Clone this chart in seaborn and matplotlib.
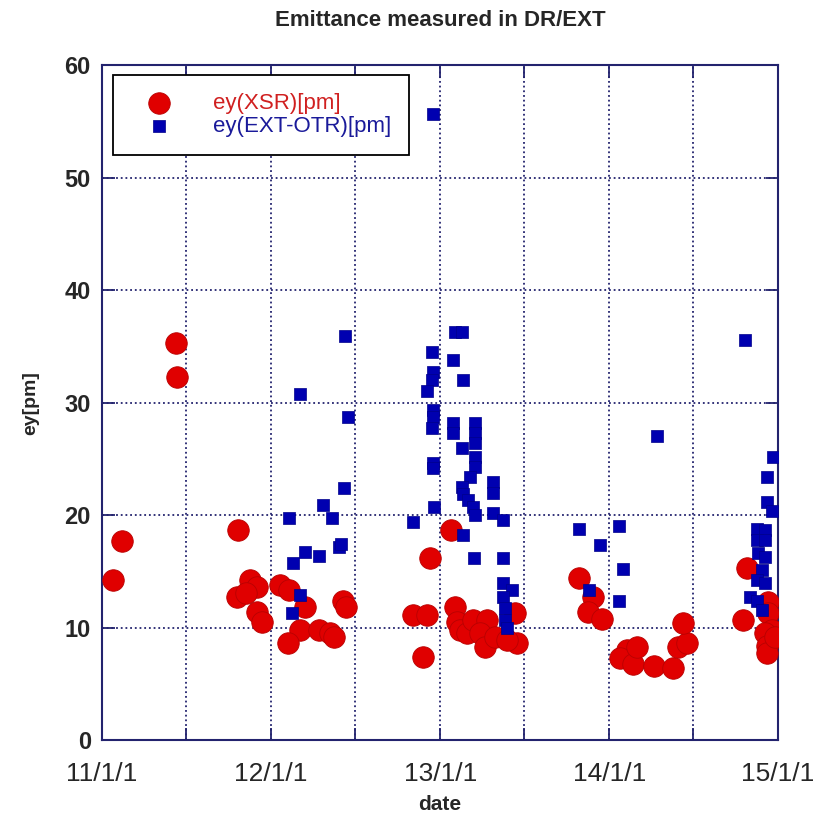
import pandas as pd
import seaborn as sns
import matplotlib.pyplot as plt
import matplotlib.dates as mdates
from matplotlib.ticker import MultipleLocator, FuncFormatter

# ey measured by XSR (red circles)
xsr_date = [
    "2011-01-25", "2011-02-13", "2011-06-09", "2011-06-13", "2011-10-23", "2011-10-19",
    "2011-11-16", "2011-12-01", "2011-11-09", "2011-12-03", "2011-12-12",
    "2012-01-20", "2012-02-10", "2012-03-14", "2012-03-03", "2012-02-06", "2012-04-15",
    "2012-05-07", "2012-05-17", "2012-06-04", "2012-06-12",
    "2013-01-24", "2012-12-10", "2012-11-03", "2012-12-04", "2012-11-25", "2013-02-01",
    "2013-02-06", "2013-02-12", "2013-02-27", "2013-03-12", "2013-04-12", "2013-03-27",
    "2013-04-07", "2013-04-29", "2013-06-11", "2013-06-15", "2013-05-25",
    "2013-10-28", "2013-11-27", "2013-11-17", "2013-12-17", "2014-02-08", "2014-01-24",
    "2014-02-21", "2014-03-02", "2014-04-09", "2014-05-18", "2014-05-29", "2014-06-18",
    "2014-06-09",
    "2014-10-17", "2014-10-26", "2014-12-10", "2014-12-10", "2014-12-19", "2014-12-04",
    "2014-12-08", "2014-12-08", "2014-12-26",
]
xsr_ey = [
    14.2, 17.7, 35.3, 32.3, 18.7, 12.7,
    14.2, 13.6, 13.1, 11.4, 10.5,
    13.8, 13.3, 11.8, 9.8, 8.6, 9.8,
    9.5, 9.2, 12.4, 11.8,
    18.7, 16.2, 11.1, 11.1, 7.4, 11.8,
    10.5, 9.8, 9.5, 10.7, 10.7, 9.5,
    8.3, 9.2, 11.3, 8.6, 8.9,
    14.4, 12.7, 11.4, 10.8, 8.0, 7.3,
    6.8, 8.3, 6.6, 6.4, 8.3, 8.6,
    10.4,
    10.7, 15.3, 12.3, 11.3, 9.8, 9.5,
    8.4, 7.7, 9.2,
]

# ey measured by EXT-OTR (blue squares)
otr_date = [
    "2012-02-10", "2012-02-15", "2012-02-17", "2012-03-05", "2012-03-05", "2012-03-14",
    "2012-04-13", "2012-04-22", "2012-05-13", "2012-05-28", "2012-06-01", "2012-06-06",
    "2012-06-10", "2012-06-15",
    "2012-12-16", "2013-02-01", "2013-02-17", "2012-12-14", "2013-01-28", "2012-12-16",
    "2012-12-14", "2013-02-19", "2012-12-03", "2012-12-16", "2012-12-17", "2012-12-14",
    "2013-01-28", "2013-01-29", "2013-03-17", "2013-03-17", "2013-03-17", "2013-02-17",
    "2013-03-18", "2013-03-18", "2012-12-16", "2012-12-17", "2013-03-06", "2013-02-17",
    "2013-02-19", "2013-03-01", "2013-03-12", "2013-03-17", "2013-04-25", "2013-04-25",
    "2013-04-26", "2013-05-16", "2012-12-18", "2012-11-03", "2013-02-19", "2013-03-14",
    "2013-05-16", "2013-05-16", "2013-06-05", "2013-05-16", "2013-05-20", "2013-05-20",
    "2013-05-25",
    "2014-04-14", "2013-10-28", "2014-01-22", "2013-12-13", "2014-01-30", "2013-11-19",
    "2014-01-22",
    "2014-10-22", "2014-12-21", "2014-12-08", "2014-12-08", "2014-12-19", "2014-11-17",
    "2014-12-04", "2014-11-17", "2014-12-04", "2014-11-19", "2014-12-04", "2014-11-28",
    "2014-11-17", "2014-12-04", "2014-11-01", "2014-11-17", "2014-11-28",
]
otr_ey = [
    19.7, 11.3, 15.7, 12.9, 30.8, 16.7,
    16.4, 20.9, 19.7, 17.2, 17.4, 22.4,
    35.9, 28.7,
    55.7, 36.3, 36.3, 34.5, 33.8, 32.7,
    32.0, 32.0, 31.0, 29.3, 28.7, 27.7,
    28.2, 27.3, 28.2, 27.3, 26.4, 26.0,
    25.2, 24.3, 24.6, 24.2, 23.4, 22.5,
    21.9, 21.3, 20.7, 20.0, 22.9, 22.0,
    20.2, 19.6, 20.7, 19.4, 18.2, 16.2,
    16.2, 14.0, 13.3, 12.7, 11.7, 10.7,
    10.0,
    27.0, 18.8, 19.0, 17.3, 15.2, 13.3,
    12.4,
    35.6, 25.2, 23.4, 21.2, 20.4, 18.8,
    18.7, 17.8, 17.8, 16.6, 16.3, 15.1,
    14.2, 14.0, 12.7, 12.4, 11.6,
]

x_start, x_end = "2011-01-01", "2015-01-01"
y_ticks = [0, 10, 20, 30, 40, 50, 60]

NAVY = "#23236e"

sns.set_style("white")
plt.rcParams["font.family"] = ["Liberation Sans Narrow", "Liberation Sans", "DejaVu Sans"]

xsr = pd.DataFrame({"date": pd.to_datetime(xsr_date), "ey": xsr_ey})
otr = pd.DataFrame({"date": pd.to_datetime(otr_date), "ey": otr_ey})

fig = plt.figure(figsize=(8.19, 8.15), dpi=100)
ax = fig.add_axes([0.1245, 0.092, 0.8255, 0.828])

sns.scatterplot(data=xsr, x="date", y="ey", ax=ax, marker="o", s=240,
                color="#e00000", edgecolor="#b80000", linewidth=0.6,
                label="ey(XSR)[pm]", zorder=3)
sns.scatterplot(data=otr, x="date", y="ey", ax=ax, marker="s", s=85,
                color="#0000b0", edgecolor="#00008a", linewidth=0.5,
                label="ey(EXT-OTR)[pm]", zorder=4)

ax.set_xlim(pd.Timestamp(x_start), pd.Timestamp(x_end))
ax.set_ylim(y_ticks[0], y_ticks[-1])
ax.xaxis.set_major_locator(mdates.YearLocator())
ax.xaxis.set_minor_locator(mdates.MonthLocator(bymonth=7))
ax.xaxis.set_major_formatter(FuncFormatter(
    lambda v, pos: mdates.num2date(v).strftime("%y/%-m/%-d")))
ax.yaxis.set_major_locator(MultipleLocator(10))

# dotted grid at every tick
ax.grid(which="both", linestyle=(0, (1, 1.6)), color=NAVY, linewidth=1.3)
ax.set_axisbelow(True)
ax.tick_params(which="both", direction="in", length=9, width=1.3, color=NAVY,
               top=True, right=True, bottom=True, left=True)
ax.tick_params(axis="x", labelsize=19, pad=16)
ax.tick_params(axis="y", labelsize=17, pad=8)
for lab in ax.get_yticklabels():
    lab.set_fontweight("bold")
for sp in ax.spines.values():
    sp.set_color(NAVY)
    sp.set_linewidth(1.5)

ax.set_title("Emittance measured in DR/EXT", fontsize=16, fontweight="bold", pad=28)
ax.set_xlabel("date", fontsize=15, fontweight="bold", labelpad=6)
ax.set_ylabel("ey[pm]", fontsize=14, fontweight="bold", labelpad=18)

leg = ax.legend(loc="upper left", bbox_to_anchor=(0.016, 0.985), borderaxespad=0,
                fontsize=16, frameon=True, fancybox=False, edgecolor="black",
                framealpha=1, borderpad=0.8, handletextpad=1.1, labelspacing=0.1,
                handlelength=2.6)
leg.get_frame().set_linewidth(1.3)
for txt, col in zip(leg.get_texts(), ["#d02020", "#1a1a9a"]):
    txt.set_color(col)

fig.savefig("out.png", dpi=100)
